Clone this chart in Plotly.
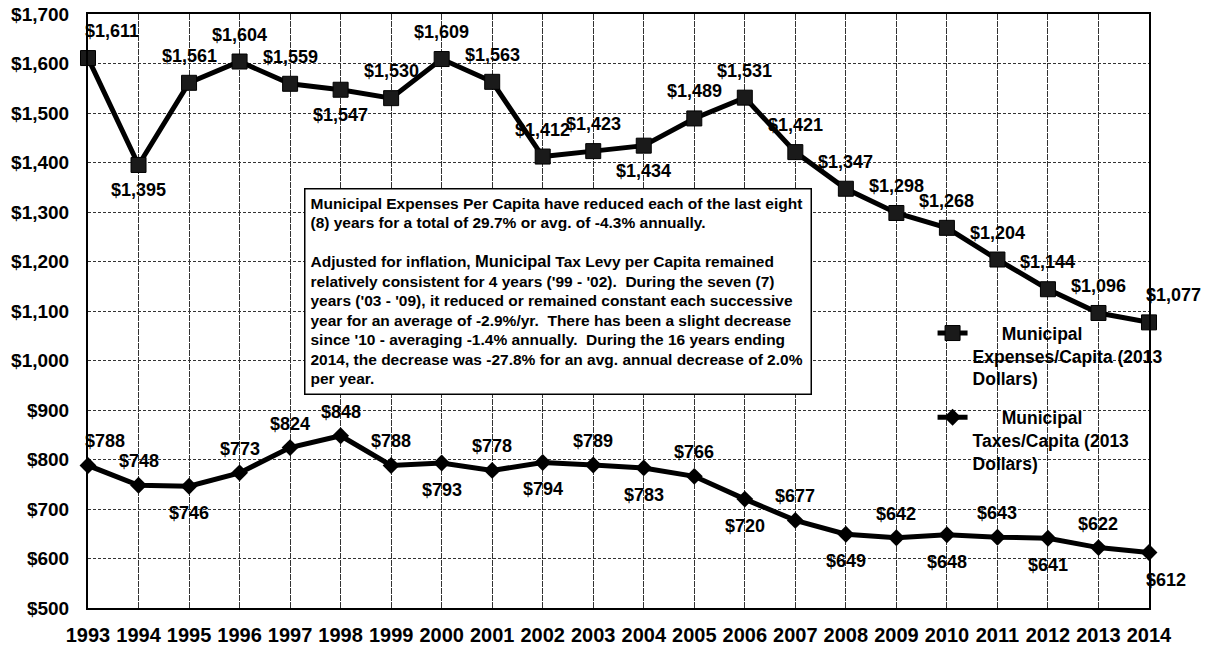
import plotly.graph_objects as go

years = list(range(1993, 2015))
expenses = [1611, 1395, 1561, 1604, 1559, 1547, 1530, 1609, 1563, 1412, 1423,
            1434, 1489, 1531, 1421, 1347, 1298, 1268, 1204, 1144, 1096, 1077]
taxes = [788, 748, 746, 773, 824, 848, 788, 793, 778, 794, 789,
         783, 766, 720, 677, 649, 642, 648, 643, 641, 622, 612]

# label placement: a = above, b = below, ar/br = above/below, starting at the point
exp_place = ['ar', 'b', 'a', 'a', 'a', 'b', 'a', 'a', 'a', 'a', 'a',
             'b', 'a', 'a', 'a', 'a', 'a', 'a', 'a', 'a', 'a', 'ar']
tax_place = ['ar', 'a', 'b', 'a', 'a', 'a', 'a', 'b', 'a', 'b', 'a',
             'b', 'a', 'b', 'a', 'b', 'a', 'b', 'a', 'b', 'a', 'br']

exp_name = "\u00a0" * 6 + "Municipal<br>Expenses/Capita (2013<br>Dollars)"
tax_name = "\u00a0" * 6 + "Municipal<br>Taxes/Capita (2013<br>Dollars)"

note_lines = [
    "Municipal Expenses Per Capita have reduced each of the last eight",
    "(8) years for a total of 29.7% or avg. of -4.3% annually.",
    "\u00a0",
    "Adjusted for inflation, <span style='font-size:16.5px'>Municipal</span> Tax Levy per Capita remained",
    "relatively consistent for 4 years ('99 - '02).\u00a0 During the seven (7)",
    "years ('03 - '09), it reduced or remained constant each successive",
    "year for an average of -2.9%/yr.\u00a0 There has been a slight decrease",
    "since '10 - averaging -1.4% annually.\u00a0 During the 16 years ending",
    "2014, the decrease was -27.8% for an avg. annual decrease of 2.0%",
    "per year.",
]

FONT = "Liberation Sans, Arial, sans-serif"

fig = go.Figure()
fig.add_trace(go.Scatter(
    x=years, y=expenses, mode="lines+markers", name=exp_name,
    legendgroup="e",
    line=dict(color="black", width=5),
    marker=dict(symbol="square", size=15, color="#1a1a1a",
                line=dict(color="black", width=1)),
    cliponaxis=False, hoverinfo="x+y",
))
fig.add_trace(go.Scatter(
    x=years, y=taxes, mode="lines+markers", name=tax_name,
    legendgroup="t",
    line=dict(color="black", width=5),
    marker=dict(symbol="diamond", size=13, color="black"),
    cliponaxis=False, hoverinfo="x+y",
))

annotations = []


def add_labels(values, places, size, up, down):
    for yr, v, p in zip(years, values, places):
        above = p.startswith('a')
        annotations.append(dict(
            x=yr, y=v, xref="x", yref="y", showarrow=False,
            text="${:,}".format(v),
            xanchor="left" if p.endswith('r') else "center",
            xshift=-5 if p.endswith('r') else 0,
            yanchor="middle",
            yshift=up if above else -down,
            font=dict(family=FONT, size=size, color="black", weight="bold"),
        ))


add_labels(expenses, exp_place, 18, 27, 25)
add_labels(taxes, tax_place, 18, 24, 27)

annotations.append(dict(
    xref="paper", yref="paper", x=(304 - 88) / 1061, y=(608 - 188) / 594,
    xanchor="left", yanchor="top", showarrow=False, align="left", valign="top",
    width=495, height=194, borderpad=5, borderwidth=1.5,
    bordercolor="black", bgcolor="white",
    text="<br>".join("<span style='font-size:15.5px'>%s</span>" % l for l in note_lines),
    font=dict(family=FONT, size=15, color="black", weight="bold"),
))

grid_col = "#333333"
fig.update_layout(
    template="none",
    width=1210, height=646,
    margin=dict(l=88, r=61, t=14, b=38, autoexpand=False),
    paper_bgcolor="white", plot_bgcolor="white",
    font=dict(family=FONT, color="black"),
    showlegend=True,
    legend=dict(
        x=0.796, y=0.493, xanchor="left", yanchor="top",
        bgcolor="rgba(0,0,0,0)", borderwidth=0,
        font=dict(family=FONT, size=17.5, color="black", weight="bold"),
        valign="top", tracegroupgap=13, traceorder="grouped",
    ),
    annotations=annotations,
    xaxis=dict(
        range=[1993, 2014], tickmode="array", tickvals=years,
        ticktext=[str(y) for y in years],
        showgrid=True, gridcolor=grid_col, gridwidth=1, griddash="6px,1px",
        showline=True, linecolor="black", linewidth=2, mirror=True,
        ticks="", ticklabelstandoff=8, automargin=False,
        tickfont=dict(family=FONT, size=20, color="black", weight="bold"),
        zeroline=False, fixedrange=True,
    ),
    yaxis=dict(
        range=[500, 1700], tickmode="linear", dtick=100, tick0=500,
        tickprefix="$", tickformat=",d",
        showgrid=True, gridcolor=grid_col, gridwidth=1, griddash="3px,2px",
        showline=True, linecolor="black", linewidth=2, mirror=True,
        ticks="", ticklabelstandoff=13, automargin=False,
        tickfont=dict(family=FONT, size=19, color="black", weight="bold"),
        zeroline=False, fixedrange=True,
    ),
)

fig.write_html("out.html", config={"displayModeBar": False},
               post_script="document.body.style.margin='0';")
